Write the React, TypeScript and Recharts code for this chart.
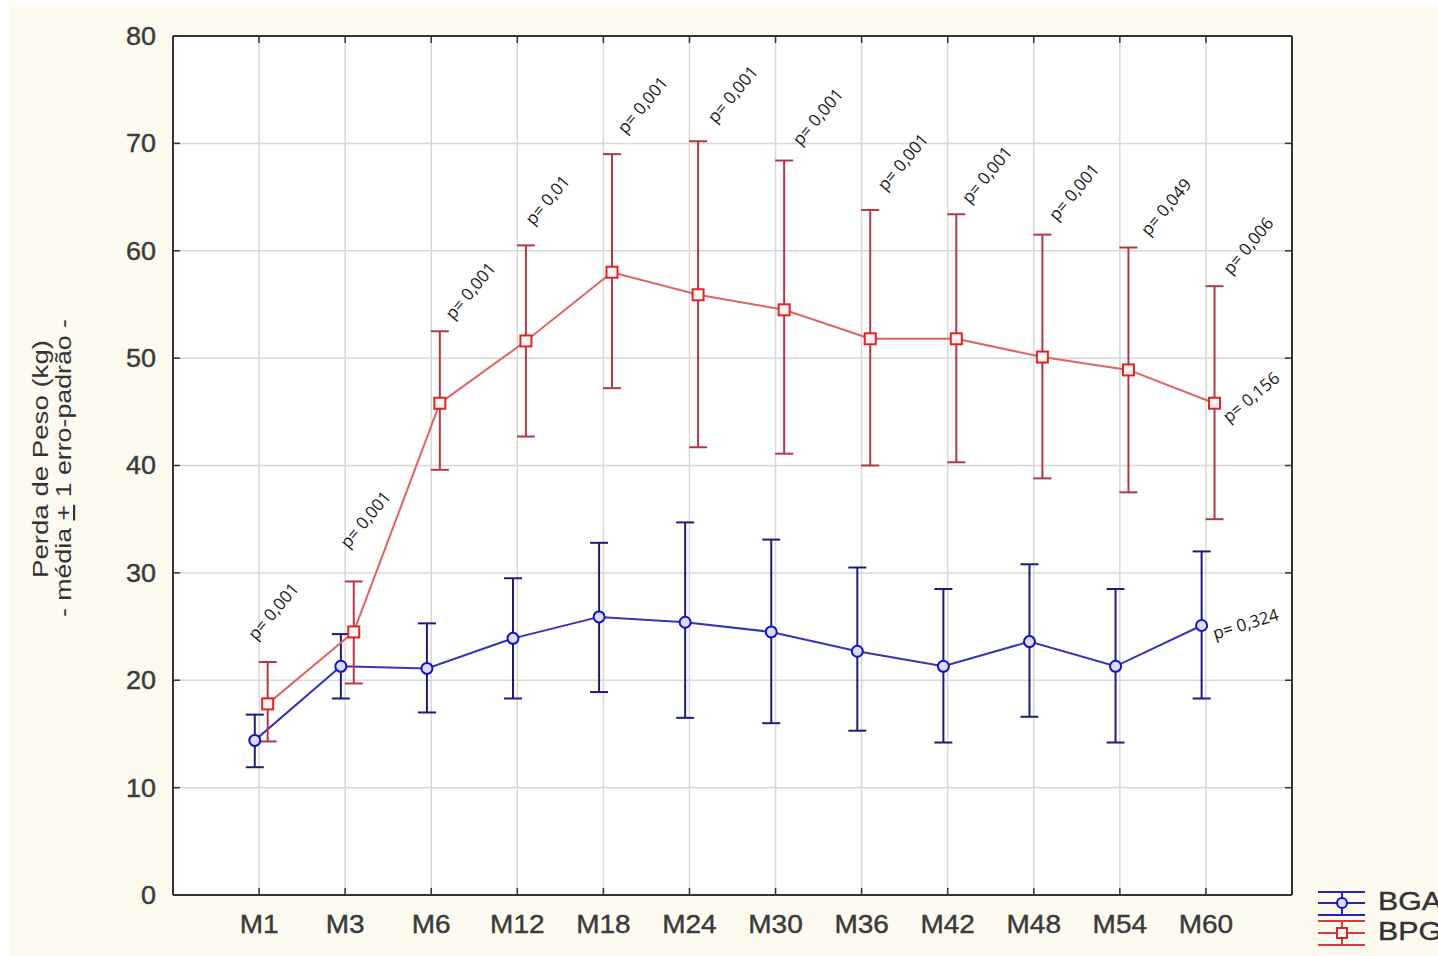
import React from "react";
import {
  ComposedChart,
  Line,
  Scatter,
  XAxis,
  YAxis,
  CartesianGrid,
  ErrorBar,
  ReferenceLine,
} from "recharts";

const categories = ["M1", "M3", "M6", "M12", "M18", "M24", "M30", "M36", "M42", "M48", "M54", "M60"];

const bgaMean = [14.4, 21.3, 21.1, 23.9, 25.9, 25.4, 24.5, 22.7, 21.3, 23.6, 21.3, 25.1];
const bgaLow = [11.9, 18.3, 17.0, 18.3, 18.9, 16.5, 16.0, 15.3, 14.2, 16.6, 14.2, 18.3];
const bgaHigh = [16.8, 24.3, 25.3, 29.5, 32.8, 34.7, 33.1, 30.5, 28.5, 30.8, 28.5, 32.0];

const bpgMean = [17.8, 24.5, 45.8, 51.6, 58.0, 55.9, 54.5, 51.8, 51.8, 50.1, 48.9, 45.8];
const bpgLow = [14.3, 19.7, 39.6, 42.7, 47.2, 41.7, 41.1, 40.0, 40.3, 38.8, 37.5, 35.0];
const bpgHigh = [21.7, 29.2, 52.5, 60.5, 69.0, 70.2, 68.4, 63.8, 63.4, 61.5, 60.3, 56.7];

const yTicks = [0, 10, 20, 30, 40, 50, 60, 70, 80];
const xTicks = categories.map((_, i) => i + 1);

// p-value notes, placed in data units (x = category slot, y = kg)
const pTexts = [
  "p= 0,001", "p= 0,001", "p= 0,001", "p= 0,01", "p= 0,001", "p= 0,001",
  "p= 0,001", "p= 0,001", "p= 0,001", "p= 0,001", "p= 0,049", "p= 0,006",
  "p= 0,156", "p= 0,324",
];
const pX = [0.965, 2.035, 3.256, 4.186, 5.256, 6.302, 7.291, 8.279, 9.256, 10.267, 11.337, 12.291, 12.267, 12.105];
const pY = [23.65, 32.2, 53.5, 62.3, 70.8, 71.8, 69.7, 65.5, 64.3, 62.7, 61.3, 57.7, 43.9, 23.8];
const pAngle = [-50, -50, -50, -50, -50, -50, -50, -50, -50, -50, -50, -50, -40, -17];

const BGA_SHIFT = -0.05;
const BPG_SHIFT = 0.1;

const bgaData = categories.map((c, i) => ({
  x: i + 1 + BGA_SHIFT,
  y: bgaMean[i],
  err: [bgaMean[i] - bgaLow[i], bgaHigh[i] - bgaMean[i]],
}));
const bpgData = categories.map((c, i) => ({
  x: i + 1 + BPG_SHIFT,
  y: bpgMean[i],
  err: [bpgMean[i] - bpgLow[i], bpgHigh[i] - bpgMean[i]],
}));
const noteData = pTexts.map((t, i) => ({ x: pX[i], y: pY[i], text: t, angle: pAngle[i] }));

const FRAME = "#333";
const TICK_FONT = {
  fontFamily: "Liberation Sans, Arial, sans-serif",
  fontSize: 25,
  fill: "#3a3a3a",
  stroke: "#3a3a3a",
  strokeWidth: 0.4,
};

// the source stretches its labels a bit sideways
const widen = (x: number, k: number) => `translate(${x} 0) scale(${k} 1) translate(${-x} 0)`;

const BottomTick = (props: any) => {
  const { x, y, payload } = props;
  return (
    <g>
      <line x1={x} x2={x} y1={y} y2={y - 7} stroke={FRAME} strokeWidth={1.5} />
      <text x={x} y={y + 38} textAnchor="middle" transform={widen(x, 1.12)} {...TICK_FONT}>
        {categories[payload.value - 1]}
      </text>
    </g>
  );
};

const TopTick = (props: any) => {
  const { x, y } = props;
  return <line x1={x} x2={x} y1={y} y2={y + 7} stroke={FRAME} strokeWidth={1.5} />;
};

const LeftTick = (props: any) => {
  const { x, y, payload } = props;
  return (
    <g>
      <line x1={x} x2={x + 7} y1={y} y2={y} stroke={FRAME} strokeWidth={1.5} />
      <text x={x - 17} y={y + 9} textAnchor="end" transform={widen(x - 17, 1.08)} {...TICK_FONT}>
        {payload.value}
      </text>
    </g>
  );
};

const RightTick = (props: any) => {
  const { x, y } = props;
  return <line x1={x} x2={x - 7} y1={y} y2={y} stroke={FRAME} strokeWidth={1.5} />;
};

const YTitle = () => (
  <g fontFamily="Liberation Sans, Arial, sans-serif" fontSize={22} fill="#333">
    <text
      x={48}
      y={459}
      transform="rotate(-90 48 459)"
      textAnchor="middle"
      textLength={238}
      lengthAdjust="spacingAndGlyphs"
    >
      Perda de Peso (kg)
    </text>
    <text
      x={71}
      y={468}
      transform="rotate(-90 71 468)"
      textAnchor="middle"
      textLength={298}
      lengthAdjust="spacingAndGlyphs"
    >
      - média <tspan textDecoration="underline">+</tspan> 1 erro-padrão -
    </text>
  </g>
);

const BgaDot = (props: any) => {
  const { cx, cy, index } = props;
  return <circle key={`bga-${index}`} cx={cx} cy={cy} r={5.5} fill="#dcdcff" stroke="#1010c8" strokeWidth={2} />;
};

const BpgDot = (props: any) => {
  const { cx, cy, index } = props;
  return (
    <rect
      key={`bpg-${index}`}
      x={cx - 5.5}
      y={cy - 5.5}
      width={11}
      height={11}
      fill="#fff4f4"
      stroke="#e02424"
      strokeWidth={2}
    />
  );
};

const Note = (props: any) => {
  const { cx, cy, payload } = props;
  return (
    <text
      x={cx}
      y={cy}
      transform={`rotate(${payload.angle} ${cx} ${cy})`}
      fontFamily="Open Sans, sans-serif"
      fontSize={17}
      fill="#1a1a1a"
    >
      {payload.text}
    </text>
  );
};

const LegendBox = () => (
  <svg
    width={138}
    height={86}
    style={{ position: "absolute", left: 1300, top: 870 }}
  >
    <g stroke="#2424b8" strokeWidth={2}>
      <line x1={18} x2={65} y1={22} y2={22} />
      <line x1={18} x2={65} y1={33} y2={33} />
      <line x1={18} x2={65} y1={45} y2={45} />
      <line x1={42} x2={42} y1={22} y2={45} />
      <circle cx={42} cy={33} r={5} fill="#dcdcff" stroke="#1010c8" />
    </g>
    <g stroke="#d83c3c" strokeWidth={2}>
      <line x1={18} x2={65} y1={51} y2={51} />
      <line x1={18} x2={65} y1={63} y2={63} />
      <line x1={18} x2={65} y1={75} y2={75} />
      <line x1={42} x2={42} y1={51} y2={75} />
      <rect x={37} y={58} width={10} height={10} fill="#fff4f4" stroke="#e02424" />
    </g>
    <g fontFamily="Liberation Sans, Arial, sans-serif" fontSize={25} fill="#333" stroke="#333" strokeWidth={0.4}>
      <text x={78} y={40} textLength={64} lengthAdjust="spacingAndGlyphs">BGA</text>
      <text x={78} y={70} textLength={64} lengthAdjust="spacingAndGlyphs">BPG</text>
    </g>
  </svg>
);

export default function App() {
  return (
    <div
      style={{
        position: "fixed",
        left: 0,
        top: 0,
        width: 1438,
        height: 956,
        overflow: "hidden",
        background: "#fff",
      }}
    >
      <div
        style={{
          position: "absolute",
          left: 9,
          top: 4,
          right: 0,
          bottom: 0,
          background: "#fdfaf0",
        }}
      />
      <div style={{ position: "absolute", left: 0, top: 0 }}>
        <ComposedChart
          width={1438}
          height={956}
          margin={{ top: 35, right: 145, bottom: 21, left: 113 }}
        >
          <CartesianGrid stroke="#d8d8d8" strokeWidth={1.5} fill="#ffffff" />
          <XAxis
            dataKey="x"
            type="number"
            domain={[0, 13]}
            ticks={xTicks}
            height={40}
            tickSize={0}
            tickMargin={0}
            tickLine={false}
            axisLine={{ stroke: FRAME, strokeWidth: 2 }}
            tick={<BottomTick />}
            interval={0}
          />
          <XAxis
            xAxisId="top"
            dataKey="x"
            orientation="top"
            type="number"
            domain={[0, 13]}
            ticks={xTicks}
            height={1}
            tickSize={0}
            tickMargin={0}
            tickLine={false}
            axisLine={{ stroke: FRAME, strokeWidth: 2 }}
            tick={<TopTick />}
            interval={0}
          />
          <YAxis
            dataKey="y"
            type="number"
            domain={[0, 80]}
            ticks={yTicks}
            width={60}
            tickSize={0}
            tickMargin={0}
            tickLine={false}
            axisLine={{ stroke: FRAME, strokeWidth: 2 }}
            tick={<LeftTick />}
            interval={0}
            label={<YTitle />}
          />
          <YAxis
            yAxisId="right"
            dataKey="y"
            orientation="right"
            type="number"
            domain={[0, 80]}
            ticks={yTicks}
            width={1}
            tickSize={0}
            tickMargin={0}
            tickLine={false}
            axisLine={{ stroke: FRAME, strokeWidth: 2 }}
            tick={<RightTick />}
            interval={0}
          />
          <ReferenceLine y={80} stroke={FRAME} strokeWidth={2} />
          <ReferenceLine x={13} stroke={FRAME} strokeWidth={2} />
          <Line
            data={bgaData}
            dataKey="y"
            stroke="#3434b4"
            strokeWidth={2}
            dot={BgaDot}
            activeDot={false}
            isAnimationActive={false}
          >
            <ErrorBar dataKey="err" direction="y" width={9} stroke="#1c1c78" strokeWidth={2} isAnimationActive={false} />
          </Line>
          <Line
            data={bpgData}
            dataKey="y"
            stroke="#e06262"
            strokeWidth={2}
            dot={BpgDot}
            activeDot={false}
            isAnimationActive={false}
          >
            <ErrorBar dataKey="err" direction="y" width={9} stroke="#b03848" strokeWidth={2} isAnimationActive={false} />
          </Line>
          <Scatter
            data={noteData}
            dataKey="y"
            xAxisId="top"
            yAxisId="right"
            shape={<Note />}
            isAnimationActive={false}
          />
        </ComposedChart>
      </div>
      <LegendBox />
    </div>
  );
}
